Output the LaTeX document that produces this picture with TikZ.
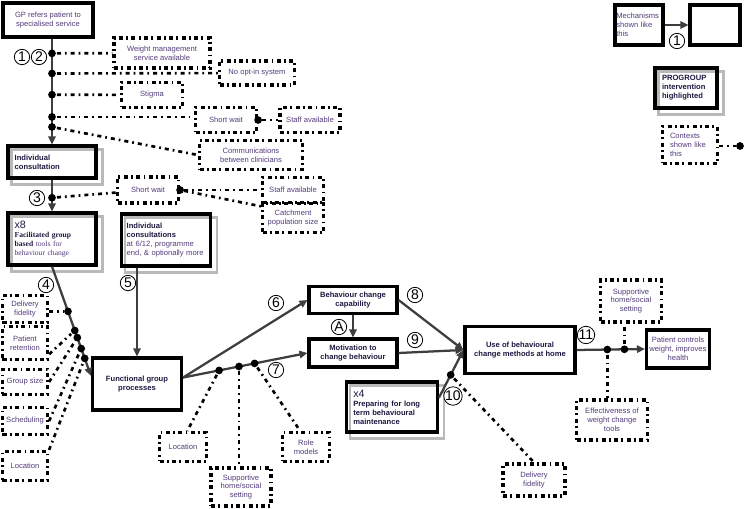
\documentclass[tikz,border=0pt]{standalone}
\usepackage{fontspec}
\setmainfont{Liberation Sans}
\newfontfamily\timesbox{Liberation Serif}
\usetikzlibrary{arrows.meta,backgrounds}

\definecolor{ctxtext}{RGB}{82,60,122}
\definecolor{mechtext}{RGB}{30,24,64}
\definecolor{mechline}{RGB}{62,62,62}

\tikzset{
    mechbox/.style={draw=black, line width=2.3pt, inner sep=0pt, align=center,
        font=\fontsize{5.7}{6.7}\selectfont\bfseries, text=mechtext},
    plainbox/.style={font=\fontsize{5.7}{6.7}\selectfont, text=ctxtext},
    ctxbox/.style={draw=black, line width=2.4pt,
        dash pattern=on 3pt off 2.5pt on 1.4pt off 2.5pt,
        inner sep=0pt, align=center,
        font=\fontsize{5.7}{6.7}\selectfont, text=ctxtext},
    mecharrow/.style={draw=mechline, line width=1.7pt,
        -{Triangle[length=6pt, width=5.5pt]}},
    ctxline/.style={draw=black, line width=2pt,
        dash pattern=on 3pt off 3pt on 1.3pt off 3pt},
    ctxdot/.style={circle, fill=black, inner sep=0pt, minimum size=5.8pt},
    numtag/.style={circle, draw=black, line width=0.6pt, fill=white,
        inner sep=0pt, minimum size=11.5pt, font=\fontsize{10.5}{10.5}\selectfont},
    progshadow/.style={draw=gray!55, line width=2pt},
}

\begin{document}
\begin{tikzpicture}[x=0.75pt, y=-0.75pt]
    \useasboundingbox (0,0) rectangle (744,509);

    % mechanisms and intervention
    \node[mechbox, plainbox, minimum width=67.5pt, minimum height=25.5pt] (gp) at (48,20)
        {GP refers patient to\\specialised service};
    \node[mechbox, align=left, text width=56pt, inner xsep=5pt, minimum height=24pt] (ic) at (52,162)
        {Individual\\consultation};
    \node[mechbox, align=left, text width=56pt, inner xsep=5pt, minimum height=39pt] (xeight) at (52,239)
        {{\fontsize{8}{8}\selectfont\mdseries x8}\\
         {\timesbox Facilitated group}\\
         {\timesbox based \mdseries\color{ctxtext}tools for}\\
         {\timesbox\mdseries\color{ctxtext}behaviour change}};
    \node[mechbox, align=left, text width=59pt, inner xsep=3.9pt, minimum height=39pt] (indc) at (166,240)
        {Individual\\consultations\\
         {\mdseries\color{ctxtext}at 6/12, programme}\\
         {\mdseries\color{ctxtext}end, \& optionally more}};
    \node[mechbox, minimum width=66.75pt, minimum height=39pt] (fgp) at (137,384)
        {Functional group\\processes};
    \node[mechbox, minimum width=66pt, minimum height=20.25pt] (cap) at (353,300)
        {Behaviour change\\capability};
    \node[mechbox, minimum width=66pt, minimum height=21pt] (mot) at (353,353)
        {Motivation to\\change behaviour};
    \node[mechbox, minimum width=82.5pt, minimum height=35.25pt] (use) at (520,350)
        {Use of behavioural\\change methods at home};
    \node[mechbox, align=left, text width=58pt, inner xsep=5pt, minimum height=37.5pt] (xfour) at (392,407)
        {{\fontsize{8}{8}\selectfont\mdseries x4}\\
         Preparing for long\\term behavioural\\maintenance};
    \node[mechbox, plainbox, minimum width=47.25pt, minimum height=28.5pt] (patient) at (678,349)
        {Patient controls\\weight, improves\\health};

    % contexts
    \node[ctxbox, minimum width=72pt, minimum height=22.5pt] (wms) at (162,53)
        {Weight management\\service available};
    \node[ctxbox, minimum width=56.25pt, minimum height=18pt] (noopt) at (257,73) {No opt-in system};
    \node[ctxbox, minimum width=45.75pt, minimum height=18.75pt] (stigma) at (152,95) {Stigma};
    \node[ctxbox, minimum width=45.75pt, minimum height=18.75pt] (swa) at (226,120) {Short wait};
    \node[ctxbox, minimum width=45pt, minimum height=18.75pt] (saa) at (310,120) {Staff available};
    \node[ctxbox, minimum width=77.25pt, minimum height=21.75pt] (comm) at (251,155)
        {Communications\\between clinicians};
    \node[ctxbox, minimum width=45.75pt, minimum height=19.5pt] (swb) at (148,190) {Short wait};
    \node[ctxbox, minimum width=45.75pt, minimum height=18.75pt] (sab) at (293,190) {Staff available};
    \node[ctxbox, minimum width=45.75pt, minimum height=21.75pt] (catch) at (293,218)
        {Catchment\\population size};
    \node[ctxbox, minimum width=33.75pt, minimum height=20.25pt] (dfa) at (25,309) {Delivery\\fidelity};
    \node[ctxbox, minimum width=33.75pt, minimum height=24.75pt] (retain) at (25,343) {Patient\\retention};
    \node[ctxbox, minimum width=33.75pt, minimum height=18.75pt] (gsize) at (25,382) {Group size};
    \node[ctxbox, minimum width=33.75pt, minimum height=20.25pt] (sched) at (25,421) {Scheduling};
    \node[ctxbox, minimum width=33.75pt, minimum height=21.75pt] (loca) at (25,466) {Location};
    \node[ctxbox, minimum width=35.25pt, minimum height=21.75pt] (locb) at (183,447) {Location};
    \node[ctxbox, minimum width=45pt, minimum height=28.5pt] (supa) at (241,487)
        {Supportive\\home/social\\setting};
    \node[ctxbox, minimum width=35.25pt, minimum height=21.75pt] (role) at (306,447) {Role\\models};
    \node[ctxbox, minimum width=46.5pt, minimum height=24pt] (dfb) at (534,480) {Delivery\\fidelity};
    \node[ctxbox, minimum width=45.75pt, minimum height=31.5pt] (supb) at (631,301)
        {Supportive\\home/social\\setting};
    \node[ctxbox, minimum width=53.25pt, minimum height=30pt] (eff) at (612,420)
        {Effectiveness of\\weight change\\tools};

    % legend
    \node[mechbox, plainbox, align=left, text width=34pt, inner xsep=1pt, minimum height=30pt] (legmech) at (639,25)
        {Mechanisms\\shown like\\this};
    \node[mechbox, minimum width=37.5pt, minimum height=30pt] (legempty) at (715,25) {};
    \node[mechbox, align=left, text width=36pt, inner xsep=5.25pt, minimum height=30pt] (legprog) at (686,88)
        {PROGROUP\\intervention\\highlighted};
    \node[ctxbox, align=left, text width=30pt, inner xsep=5.6pt, minimum height=27.75pt] (legctx) at (690,145)
        {Contexts\\shown like\\this};
    \node[ctxdot] (legdot) at (740,146) {};

    \begin{scope}[on background layer]
        \foreach \b in {ic, xeight, indc, xfour, legprog}
            \draw[progshadow] ([shift={(5,5)}]\b.north west) rectangle ([shift={(5,5)}]\b.south east);
    \end{scope}

    % arrows with contexts on them
    \draw[mecharrow] (gp.south -| ic.north) -- (ic.north)
        node[ctxdot, pos=0.14] (da) {}
        node[ctxdot, pos=0.33] (db) {}
        node[ctxdot, pos=0.53] (dc) {}
        node[ctxdot, pos=0.74] (dd) {}
        node[ctxdot, pos=0.835] (de) {};
    \draw[mecharrow] (ic.south) -- (xeight.north)
        node[ctxdot, pos=0.57] (df) {};
    \draw[mecharrow] (xeight.south) -- (fgp.170)
        node[ctxdot, pos=0.41] (ga) {}
        node[ctxdot, pos=0.585] (gb) {}
        node[ctxdot, pos=0.65] (gc) {}
        node[ctxdot, pos=0.75] (gd) {}
        node[ctxdot, pos=0.84] (ge) {};
    \draw[mecharrow] (indc.south -| fgp.north) -- (fgp.north);
    \draw[mecharrow] (fgp.8) -- (cap.west);
    \draw[mecharrow] (fgp.8) -- (mot.west)
        node[ctxdot, pos=0.29] (ka) {}
        node[ctxdot, pos=0.45] (kb) {}
        node[ctxdot, pos=0.575] (kc) {};
    \draw[mecharrow] (cap.south) -- (mot.north);
    \draw[mecharrow] (cap.east) -- (use.west);
    \draw[mecharrow] (mot.east) -- (use.west);
    \draw[mecharrow] (xfour.11) -- (use.west)
        node[ctxdot, pos=0.48] (ha) {};
    \draw[mecharrow] (use.east) -- (patient.west)
        node[ctxdot, pos=0.45] (pa) {}
        node[ctxdot, pos=0.70] (pb) {};
    \draw[mecharrow] (legmech.east) -- (legempty.west);

    % context links
    \node[ctxdot] (swda) at (swa.east) {};
    \node[ctxdot] (swdb) at (swb.east) {};
    \draw[ctxline] (da) -- (wms);
    \draw[ctxline] (db) -- (noopt);
    \draw[ctxline] (dc) -- (stigma);
    \draw[ctxline] (dd) -- (dd -| swa.west);
    \draw[ctxline] (de) -- (comm.west);
    \draw[ctxline] (swda) -- (saa);
    \draw[ctxline] (df) -- (swb);
    \draw[ctxline] (swdb) -- (sab);
    \draw[ctxline] (swdb) -- (catch.160);
    \draw[ctxline] (ga -| dfa.east) -- (ga);
    \draw[ctxline] (retain.-25) -- (gb);
    \draw[ctxline] (gsize.east) -- (gc);
    \draw[ctxline] (sched.east) -- (gd);
    \draw[ctxline] (loca.north east) -- (ge);
    \draw[ctxline] (ka) -- (locb.75);
    \draw[ctxline] (kb) -- (kb |- supa.north);
    \draw[ctxline] (kc) -- (role.110);
    \draw[ctxline] (ha) -- (dfb.north);
    \draw[ctxline] (pa) -- (pa |- eff.north);
    \draw[ctxline] (pb) -- (pb |- supb.south);
    \draw[ctxline] (legctx.east |- legdot) -- (legdot);

    % mechanism numbers
    \node[numtag] (na) at (22,57) {1};
    \node[numtag] (nb) at (39,57) {2};
    \node[numtag] (nc) at (37,198) {3};
    \node[numtag] (nd) at (46,285) {4};
    \node[numtag] (ne) at (128,283) {5};
    \node[numtag] (nf) at (276,303) {6};
    \node[numtag] (ng) at (276,370) {7};
    \node[numtag] (nbeh) at (339,327) {A};
    \node[numtag] (nh) at (415,295) {8};
    \node[numtag] (ni) at (415,340) {9};
    \node[numtag] (nj) at (453,396) {10};
    \node[numtag] (nk) at (586,335) {11};
    \node[numtag] (nleg) at (677,41) {1};
\end{tikzpicture}
\end{document}
